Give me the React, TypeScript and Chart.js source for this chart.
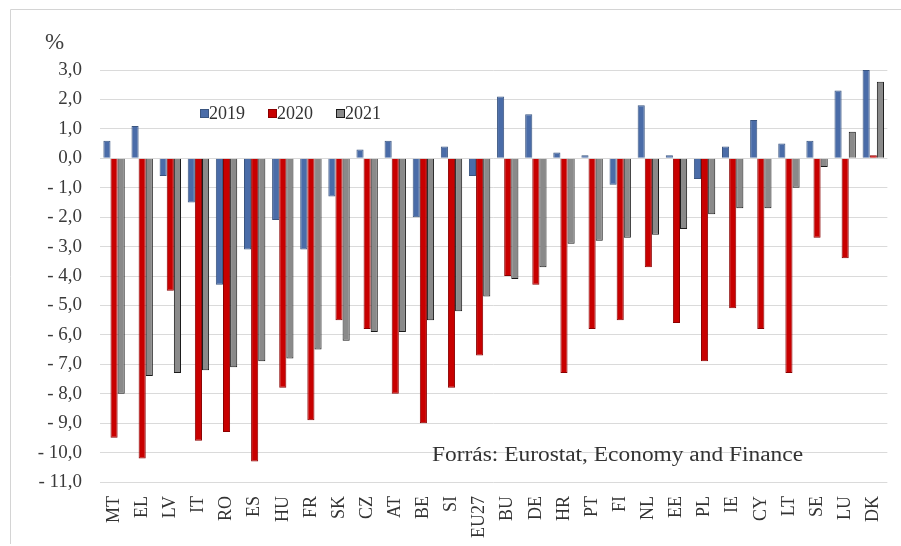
import React, { useEffect, useRef } from "react";
import { Chart, registerables } from "chart.js";

Chart.register(...registerables);

const categories = ["MT", "EL", "LV", "IT", "RO", "ES", "HU", "FR", "SK", "CZ", "AT", "BE", "SI", "EU27", "BU", "DE", "HR", "PT", "FI", "NL", "EE", "PL", "IE", "CY", "LT", "SE", "LU", "DK"];
const seriesLabels = ["2019", "2020", "2021"];
const values2019 = [0.6, 1.1, -0.6, -1.5, -4.3, -3.1, -2.1, -3.1, -1.3, 0.3, 0.6, -2.0, 0.4, -0.6, 2.1, 1.5, 0.2, 0.1, -0.9, 1.8, 0.1, -0.7, 0.4, 1.3, 0.5, 0.6, 2.3, 3.0];
const values2020 = [-9.5, -10.2, -4.5, -9.6, -9.3, -10.3, -7.8, -8.9, -5.5, -5.8, -8.0, -9.0, -7.8, -6.7, -4.0, -4.3, -7.3, -5.8, -5.5, -3.7, -5.6, -6.9, -5.1, -5.8, -7.3, -2.7, -3.4, 0.1];
const values2021 = [-8.0, -7.4, -7.3, -7.2, -7.1, -6.9, -6.8, -6.5, -6.2, -5.9, -5.9, -5.5, -5.2, -4.7, -4.1, -3.7, -2.9, -2.8, -2.7, -2.6, -2.4, -1.9, -1.7, -1.7, -1.0, -0.3, 0.9, 2.6];
const yMin = -11;
const yMax = 3;
const yStep = 1;
const unitLabel = "%";
const sourceText = "Forrás: Eurostat, Economy and Finance";

const FONT = "'Liberation Serif', 'Times New Roman', serif";
const colors = ["#4a6ca8", "#c80000", "#8a8a8a"];
const borders = ["#3a5580", "#8a0000", "#1a1a1a"];

function fmt(v: number): string {
  const s = Math.abs(v).toFixed(1).replace(".", ",");
  return v < 0 ? "- " + s : s;
}

const decorPlugin = {
  id: "decor",
  afterDraw(chart: any) {
    const ctx = chart.ctx as CanvasRenderingContext2D;
    ctx.save();
    // frame
    ctx.strokeStyle = "#d4d4d4";
    ctx.lineWidth = 1;
    ctx.beginPath();
    ctx.moveTo(10.5, 544);
    ctx.lineTo(10.5, 9.5);
    ctx.lineTo(901, 9.5);
    ctx.stroke();
    // unit
    ctx.fillStyle = "#404040";
    ctx.font = `23px ${FONT}`;
    ctx.textBaseline = "middle";
    ctx.textAlign = "left";
    ctx.fillText(unitLabel, 45, 43);
    // legend
    ctx.font = `18px ${FONT}`;
    let x = 200;
    const y = 114;
    seriesLabels.forEach((lab, i) => {
      ctx.fillStyle = colors[i];
      ctx.fillRect(x, y - 5, 9, 9);
      ctx.strokeStyle = borders[i];
      ctx.strokeRect(x + 0.5, y - 4.5, 8, 8);
      ctx.fillStyle = "#333";
      ctx.fillText(lab, x + 9, y);
      x += 68;
    });
    // source (slightly widened, as in the reference)
    ctx.font = `20px ${FONT}`;
    ctx.fillStyle = "#333";
    ctx.translate(432, 456);
    ctx.scale(1.17, 1);
    ctx.fillText(sourceText, 0, 0);
    ctx.restore();
  },
};

export default function App() {
  const ref = useRef<HTMLCanvasElement>(null);
  useEffect(() => {
    if (!ref.current) return;
    const data = [values2019, values2020, values2021];
    const chart = new Chart(ref.current, {
      type: "bar",
      data: {
        labels: categories,
        datasets: seriesLabels.map((lab, i) => ({
          label: lab,
          data: data[i],
          backgroundColor: colors[i],
          borderColor: borders[i],
          borderWidth: 1,
          categoryPercentage: 0.76,
          barPercentage: 1.0,
        })),
      },
      options: {
        responsive: false,
        animation: false,
        devicePixelRatio: 1,
        layout: { padding: { left: 0, right: 6, top: 70, bottom: 4 } },
        plugins: { legend: { display: false }, tooltip: { enabled: false } },
        scales: {
          x: {
            grid: { display: false },
            border: { display: false },
            ticks: {
              minRotation: 90,
              maxRotation: 90,
              autoSkip: false,
              padding: 6,
              color: "#333",
              font: { family: FONT, size: 18 },
            },
            afterFit: (s: any) => {
              s.height = 60;
            },
          },
          y: {
            min: yMin,
            max: yMax,
            grid: { color: "#dadada", drawTicks: false, lineWidth: 1 },
            border: { display: false },
            ticks: {
              stepSize: yStep,
              padding: 18,
              color: "#3a3a3a",
              font: { family: FONT, size: 19 },
              callback: (v: any) => fmt(Number(v)),
            },
            afterFit: (s: any) => {
              s.width = 100;
            },
          },
        },
      },
      plugins: [decorPlugin],
    });
    return () => chart.destroy();
  }, []);
  return (
    <div style={{ position: "fixed", left: 0, top: 0, width: 901, height: 546, background: "#fff" }}>
      <canvas ref={ref} width={901} height={546} style={{ display: "block", width: 901, height: 546 }} />
    </div>
  );
}
